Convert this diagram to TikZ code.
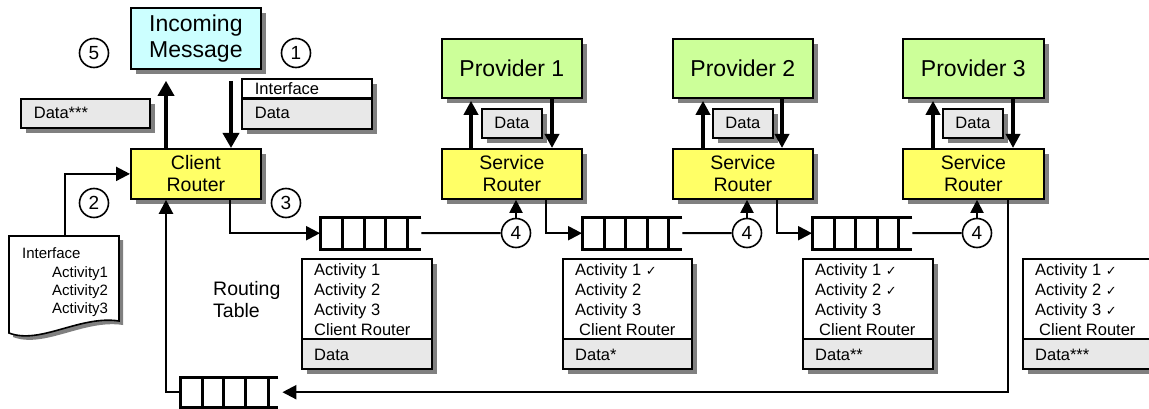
\documentclass[tikz,border=0pt]{standalone}
\usepackage{fontspec}
\setmainfont{Liberation Sans}
\newfontfamily\dejavu{DejaVu Sans}
\usetikzlibrary{arrows.meta,shadows,calc}
\definecolor{cyanfill}{HTML}{CCFFFF}
\definecolor{yellowfill}{HTML}{FFFF66}
\definecolor{greenfill}{HTML}{CCFF99}
\definecolor{datafill}{HTML}{E8E8E8}
\definecolor{shgray}{HTML}{808080}
\newcommand{\ck}{{\dejavu\fontsize{13}{13}\selectfont ✓}}
\newcommand{\qlines}[5]{%
  \draw[qline] (#1.north east) -- (#1.north west) -- (#1.south west) -- (#1.south east);
  \foreach \f in {#2,#3,#4,#5}
    \draw[qline] ($(#1.north west)!\f!(#1.north east)$) -- ($(#1.south west)!\f!(#1.south east)$);
}
\newcommand{\rtable}[8]{%
  \node[tabtop,minimum width=#3] (#1) at (#2,258) {};
  \node[tabbot,minimum width=#3] (#1d) at (#2,338) {};
  \node[tabtxt] (#1a) at (#2+13,275) {#4};
  \node[tabtxt] (#1b) at (#2+13,295) {#5};
  \node[tabtxt] (#1c) at (#2+13,315) {#6};
  \node[tabtxt] (#1e) at (#2+13,335) {#7};
  \node[tabtxt] (#1f) at (#2+13,360) {#8};
}
\begin{document}
\begin{tikzpicture}[x=1pt,y=-1pt,
  shadowed/.style={drop shadow={shadow xshift=5pt,shadow yshift=-5pt,fill=shgray,opacity=1}},
  box/.style={draw=black,line width=1.8pt,inner sep=0pt,align=center,anchor=north west,shadowed},
  msgbox/.style={box,fill=cyanfill,minimum width=130pt,minimum height=61pt,font=\fontsize{23}{26}\selectfont},
  routerbox/.style={box,fill=yellowfill,minimum width=140pt,minimum height=50pt,font=\fontsize{19.5}{22}\selectfont},
  provbox/.style={box,fill=greenfill,minimum width=140pt,minimum height=59pt,font=\fontsize{23}{26}\selectfont},
  databox/.style={box,fill=datafill,minimum width=60pt,minimum height=29pt,font=\fontsize{16.5}{18}\selectfont},
  tabtop/.style={box,fill=white,minimum height=80pt},
  tabbot/.style={box,fill=datafill,minimum height=30pt},
  tabtxt/.style={anchor=base west,inner sep=0pt,font=\fontsize{16.5}{18}\selectfont},
  doctxt/.style={anchor=base west,inner sep=0pt,font=\fontsize{15}{18}\selectfont},
  circ/.style={circle,draw=black,line width=1.6pt,fill=white,minimum size=29pt,inner sep=0pt,font=\fontsize{19}{19}\selectfont},
  qnode/.style={anchor=north west,inner sep=0pt,draw=none},
  qline/.style={line width=3pt},
  bigarr/.style={line width=3.5pt,-{Triangle[length=15pt,width=16pt]}},
  provarr/.style={line width=3.5pt,-{Triangle[length=14pt,width=14pt]}},
  midarr/.style={line width=2.2pt,-{Triangle[length=14pt,width=14pt]}},
  smallarr/.style={line width=2pt,-{Triangle[length=13pt,width=13pt]}},
  conn/.style={line width=2pt}
]
\useasboundingbox (0,0) rectangle (1149,409);
\clip (0,0) rectangle (1149,409);

% top-left
\node[msgbox] (msg) at (130,7) {Incoming\\Message};
\node[routerbox,minimum width=130pt] (cr) at (130,148) {Client\\Router};
\node[databox,minimum width=129pt,inner xsep=13pt,text width=103pt,align=left] (dtop) at (20,98) {Data***};
\node[box,fill=white,minimum width=130pt,minimum height=19pt,inner xsep=13pt,text width=104pt,align=left,font=\fontsize{16.5}{18}\selectfont] (ida) at (241,78) {Interface};
\node[box,fill=datafill,minimum width=130pt,minimum height=31pt,inner xsep=13pt,text width=104pt,align=left,font=\fontsize{16.5}{18}\selectfont] (idb) at (241,97) {Data};
\draw[line width=2.6pt] (ida.south west) -- (ida.south east);

\node[circ] (c5) at (94,53) {5};
\node[circ] (c1) at (296,53) {1};
\node[circ] (c2) at (94,203) {2};
\node[circ] (c3) at (286,203) {3};

% document
\fill[shgray] (13,240) -- (123,240) -- (123,325) .. controls (84,319) and (44,349) .. (13,337) -- cycle;
\draw[line width=1.6pt,fill=white,line join=miter] (9,236) -- (119,236) -- (119,321) .. controls (80,315) and (40,345) .. (9,333) -- cycle;
\coordinate (doctop) at (65,236);
\node[doctxt] (dl1) at (22,258) {Interface};
\node[doctxt] (dl2) at (52,277) {Activity1};
\node[doctxt] (dl3) at (52,295) {Activity2};
\node[doctxt] (dl4) at (52,313) {Activity3};

\node[anchor=base west,inner sep=0pt,font=\fontsize{19.5}{22}\selectfont] (rt1) at (213,295) {Routing};
\node[anchor=base west,inner sep=0pt,font=\fontsize{19.5}{22}\selectfont] (rt2) at (213,317) {Table};

% providers and service routers
\node[provbox] (p1) at (441,38) {Provider 1};
\node[provbox] (p2) at (672,38) {Provider 2};
\node[provbox,minimum width=141pt] (p3) at (902,38) {Provider 3};
\node[routerbox] (s1) at (441,148) {Service\\Router};
\node[routerbox] (s2) at (672,148) {Service\\Router};
\node[routerbox,minimum width=141pt] (s3) at (902,148) {Service\\Router};
\node[databox] (d1) at (481,108) {Data};
\node[databox] (d2) at (712,108) {Data};
\node[databox] (d3) at (942,108) {Data};

% queues
\node[qnode,minimum width=101pt,minimum height=32pt] (q1) at (320,217) {};
\node[qnode,minimum width=100pt,minimum height=32pt] (q2) at (582,217) {};
\node[qnode,minimum width=100pt,minimum height=32pt] (q3) at (812,217) {};
\node[qnode,minimum width=98pt,minimum height=30pt] (qb) at (180,377) {};
\qlines{q1}{0.225}{0.435}{0.65}{0.865}
\qlines{q2}{0.225}{0.435}{0.65}{0.865}
\qlines{q3}{0.225}{0.435}{0.65}{0.865}
\qlines{qb}{0.225}{0.44}{0.67}{0.895}

% routing tables
\rtable{t1}{301}{130pt}{Activity 1}{Activity 2}{Activity 3}{Client Router}{Data}
\rtable{t2}{562}{129pt}{Activity 1 \ck}{Activity 2}{Activity 3}{\hspace*{4pt}Client Router}{Data*}
\rtable{t3}{802}{130pt}{Activity 1 \ck}{Activity 2 \ck}{Activity 3}{\hspace*{4pt}Client Router}{Data**}
\rtable{t4}{1022}{130pt}{Activity 1 \ck}{Activity 2 \ck}{Activity 3 \ck}{\hspace*{4pt}Client Router}{Data***}

% circles 4
\node[circ] (c4a) at (516,233) {4};
\node[circ] (c4b) at (747,233) {4};
\node[circ] (c4c) at (977,233) {4};

% connectors top
\draw[bigarr] ($(cr.north west)+(36,0)$) -- ($(msg.south west)+(36,11)$);
\draw[bigarr] ($(msg.south west)+(101,11)$) -- ($(cr.north west)+(101,0)$);
\draw[provarr] ($(s1.north west)+(30,0)$) -- ($(p1.south west)+(30,2)$);
\draw[provarr] ($(p1.south west)+(111,0)$) -- ($(s1.north west)+(111,0)$);
\draw[provarr] ($(s2.north west)+(31,0)$) -- ($(p2.south west)+(31,2)$);
\draw[provarr] ($(p2.south west)+(110,0)$) -- ($(s2.north west)+(110,0)$);
\draw[provarr] ($(s3.north west)+(31,0)$) -- ($(p3.south west)+(31,2)$);
\draw[provarr] ($(p3.south west)+(111,0)$) -- ($(s3.north west)+(111,0)$);

% connectors bottom
\draw[midarr] (doctop) |- (cr.west);
\draw[midarr] ($(cr.south west)+(100,0)$) |- (q1.west);
\draw[conn] (q1.east) -- (c4a.west);
\draw[smallarr] (c4a.north) -- (c4a.north |- s1.south);
\draw[midarr] ($(s1.south west)+(105,0)$) |- (q2.west);
\draw[conn] (q2.east) -- (c4b.west);
\draw[smallarr] (c4b.north) -- (c4b.north |- s2.south);
\draw[midarr] ($(s2.south west)+(105,0)$) |- (q3.west);
\draw[conn] (q3.east) -- (c4c.west);
\draw[smallarr] (c4c.north) -- (c4c.north |- s3.south);
\draw[midarr] ($(s3.south west)+(106,0)$) |- ($(qb.east)+(4,0)$);
\draw[midarr] (qb.west) -| ($(cr.south west)+(36,0)$);
\end{tikzpicture}
\end{document}
